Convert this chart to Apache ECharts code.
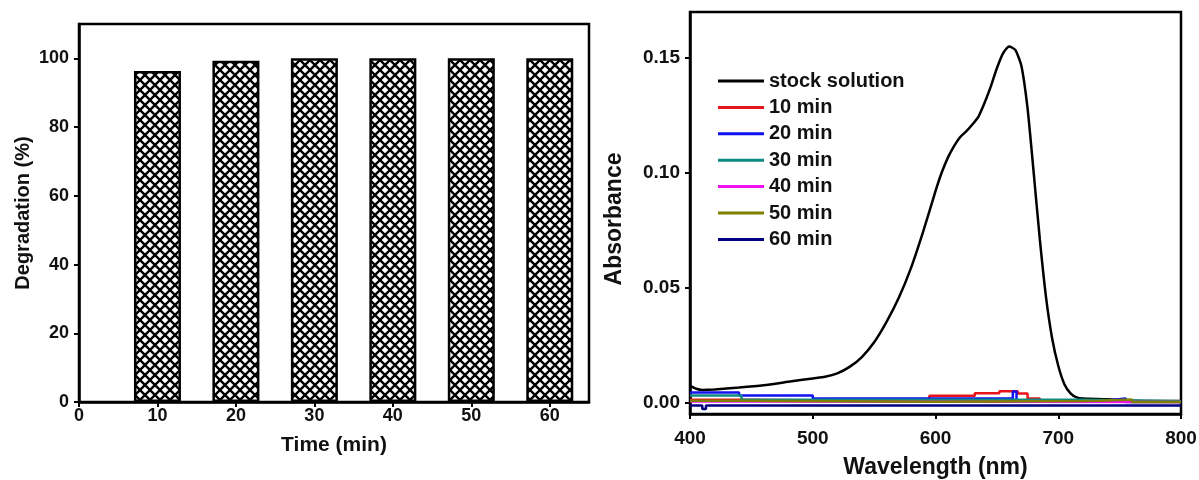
<!DOCTYPE html>
<html>
<head>
<meta charset="utf-8">
<script src="https://cdn.jsdelivr.net/npm/echarts@6/dist/echarts.min.js"></script>
<style>
  html, body { margin: 0; padding: 0; background: #fff; }
  #main { width: 1199px; height: 480px; }
</style>
</head>
<body>
<div id="main"></div>
<script>
// ---- left panel: degradation vs time
var times = [10, 20, 30, 40, 50, 60];
var degradation = [96.3, 99.3, 100, 100, 100, 100];
var timeTicks = [0, 10, 20, 30, 40, 50, 60];
var degTicks = [0, 20, 40, 60, 80, 100];

// ---- right panel: UV-vis spectra
var stockWave = [400, 405, 410, 420, 440, 460, 480, 500, 510, 520, 530, 540, 550, 560, 570, 580, 590,
                 600, 605, 610, 615, 620, 625, 630, 635, 640, 645, 650, 655, 660, 665, 670, 675, 680,
                 685, 690, 695, 700, 705, 710, 715, 720, 740, 760, 800];
var stockAbs = [0.0072, 0.006, 0.0055, 0.0057, 0.0065, 0.0075, 0.009, 0.0105, 0.0112, 0.0127, 0.0155, 0.0198,
                0.0262, 0.035, 0.0455, 0.0585, 0.0745, 0.092, 0.100, 0.1065, 0.1115, 0.1155, 0.118, 0.121,
                0.1245, 0.1305, 0.1375, 0.1455, 0.152, 0.155, 0.1535, 0.1465, 0.128, 0.100, 0.071, 0.046,
                0.028, 0.016, 0.008, 0.004, 0.0022, 0.0017, 0.0014, 0.0008, 0.0007];
var waveTicks = [400, 500, 600, 700, 800];
var absTicks = [0, 0.05, 0.10, 0.15];

// after-treatment spectra are flat & quantised, stored as step breakpoints
var wave10 = [400, 440, 595, 632, 652, 667, 675, 685, 800];
var abs10  = [0.0012, 0.0006, 0.0029, 0.0040, 0.0049, 0.0039, 0.0018, 0.0004, 0.0004];
var wave20 = [400, 440, 500, 663, 666, 740, 755, 800];
var abs20  = [0.0044, 0.0030, 0.0017, 0.0048, 0.0009, 0.0017, 0.0002, 0.0002];
var wave30 = [400, 442, 720, 800];
var abs30  = [0.0030, 0.0012, 0.0006, 0.0003];
var wave40 = [400, 442, 800];
var abs40  = [0.0004, 0.0002, 0.0002];
var wave50 = [400, 440, 600, 720, 735, 760, 800];
var abs50  = [0.0008, 0.0003, 0.0007, 0.0008, 0.0013, 0.0002, 0.0002];
var wave60 = [400, 410, 413, 800];
var abs60  = [-0.0013, -0.0028, -0.0013, -0.0013];

function zip(xs, ys) {
    return xs.map(function (x, i) { return [x, ys[i]]; });
}

// cross-hatch fill for the bars
function hatch() {
    var n = 10;
    var c = document.createElement('canvas');
    c.width = n; c.height = n;
    var g = c.getContext('2d');
    g.fillStyle = '#fff';
    g.fillRect(0, 0, n, n);
    g.strokeStyle = '#000';
    g.lineWidth = 2.4;
    g.beginPath();
    g.moveTo(-1, -1); g.lineTo(n + 1, n + 1);
    g.moveTo(n + 1, -1); g.lineTo(-1, n + 1);
    g.stroke();
    return c;
}

var font = 'Liberation Sans';
var black = '#111';
var axisLine = { onZero: false, lineStyle: { color: '#000', width: 2.5 } };
function tick(vals) {
    return { show: true, length: 5, inside: false, customValues: vals, lineStyle: { color: '#000', width: 2 } };
}
function lbl(vals, size, margin, fmt) {
    var o = { customValues: vals, color: black, fontFamily: font, fontWeight: 'bold', fontSize: size, margin: margin };
    if (fmt) o.formatter = fmt;
    return o;
}
function nameStyle(size, pad) {
    return { color: black, fontFamily: font, fontWeight: 'bold', fontSize: size, padding: pad || 0 };
}

var chart = echarts.init(document.getElementById('main'));

var lowSeries = [
    ['10 min', '#e8141b', wave10, abs10],
    ['20 min', '#1010f0', wave20, abs20],
    ['30 min', '#0f8a80', wave30, abs30],
    ['40 min', '#f010f0', wave40, abs40],
    ['50 min', '#808000', wave50, abs50],
    ['60 min', '#000080', wave60, abs60]
].map(function (s) {
    return {
        name: s[0], type: 'line', xAxisIndex: 1, yAxisIndex: 1,
        step: 'end', symbol: 'none', silent: true,
        color: s[1],
        lineStyle: { color: s[1], width: 2.5 },
        data: zip(s[2], s[3])
    };
});

chart.setOption({
    animation: false,
    grid: [
        { left: 79, top: 24, width: 510, height: 378, show: true, borderColor: '#000', borderWidth: 2.5,
          outerBoundsMode: 'none' },
        { left: 690, top: 12, width: 491, height: 402, show: true, borderColor: '#000', borderWidth: 2.5,
          outerBoundsMode: 'none' }
    ],
    legend: {
        orient: 'vertical',
        left: 713, top: 66,
        icon: 'rect',
        itemWidth: 46, itemHeight: 3, itemGap: 6.4,
        textStyle: { color: black, fontFamily: font, fontWeight: 'bold', fontSize: 20 },
        data: ['stock solution', '10 min', '20 min', '30 min', '40 min', '50 min', '60 min']
    },
    xAxis: [
        {
            gridIndex: 0, type: 'value', min: 0, max: 65,
            name: 'Time (min)', nameLocation: 'middle', nameGap: 33, nameTextStyle: nameStyle(21),
            axisLine: axisLine, axisTick: tick(timeTicks), axisLabel: lbl(timeTicks, 18, 5),
            splitLine: { show: false }
        },
        {
            gridIndex: 1, type: 'value', min: 400, max: 800,
            name: 'Wavelength (nm)', nameLocation: 'middle', nameGap: 42, nameTextStyle: nameStyle(23),
            axisLine: axisLine, axisTick: tick(waveTicks), axisLabel: lbl(waveTicks, 19, 15),
            splitLine: { show: false }
        }
    ],
    yAxis: [
        {
            gridIndex: 0, type: 'value', min: 0, max: 110,
            name: 'Degradation (%)', nameLocation: 'middle', nameGap: 46, nameTextStyle: nameStyle(20),
            axisLine: axisLine, axisTick: tick(degTicks), axisLabel: lbl(degTicks, 18, 10),
            splitLine: { show: false }
        },
        {
            gridIndex: 1, type: 'value', min: -0.005, max: 0.17,
            name: 'Absorbance', nameLocation: 'middle', nameGap: 64, nameTextStyle: nameStyle(23, [0, 12, 0, 0]),
            axisLine: axisLine, axisTick: tick(absTicks),
            axisLabel: lbl(absTicks, 19, 10, function (v) { return v.toFixed(2); }),
            splitLine: { show: false }
        }
    ],
    series: [
        {
            type: 'bar', xAxisIndex: 0, yAxisIndex: 0, barWidth: 47,
            itemStyle: { color: { image: hatch(), repeat: 'repeat' }, borderColor: '#000', borderWidth: 2.5 },
            data: zip(times, degradation)
        },
        {
            name: 'stock solution', type: 'line', xAxisIndex: 1, yAxisIndex: 1,
            symbol: 'none', smooth: 0.2, color: '#000',
            lineStyle: { color: '#000', width: 2.5 },
            data: zip(stockWave, stockAbs)
        }
    ].concat(lowSeries)
});
</script>
</body>
</html>
